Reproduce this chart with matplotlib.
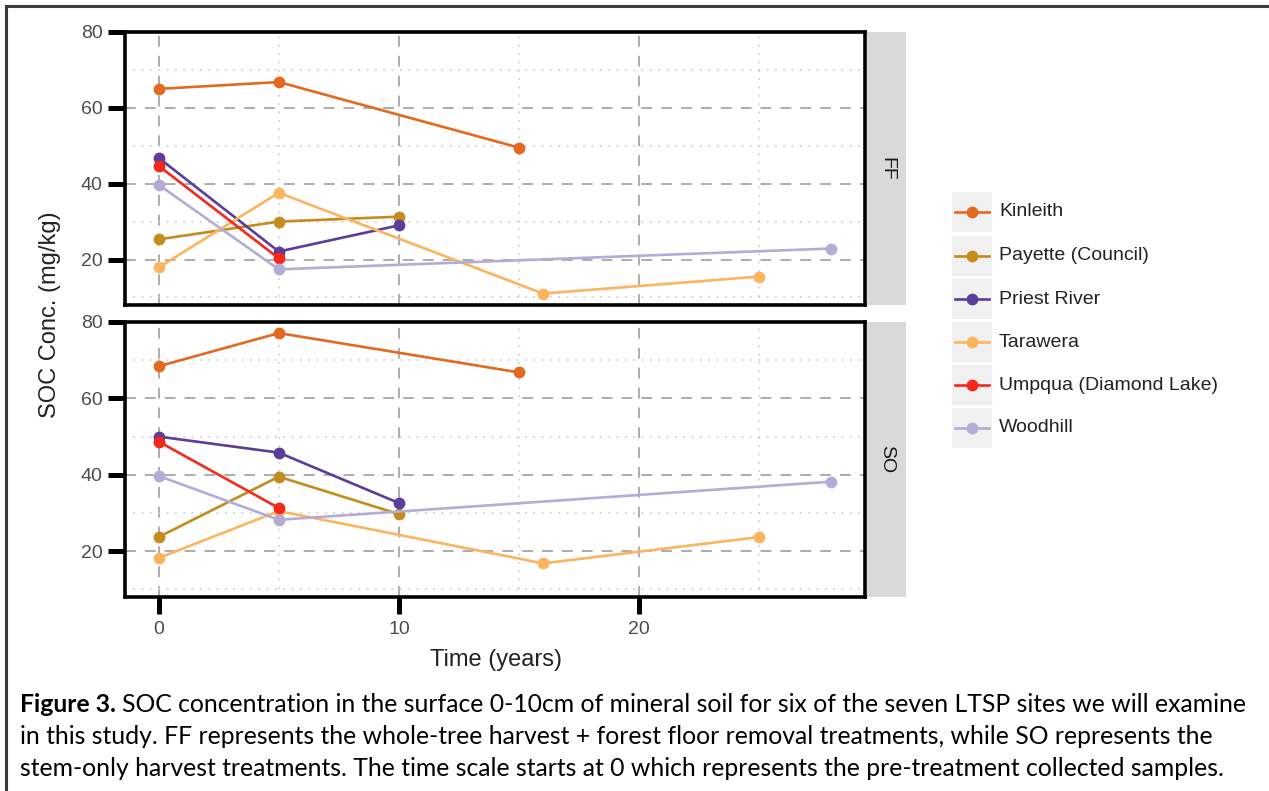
import matplotlib.pyplot as plt
from matplotlib.patches import Rectangle
from matplotlib.lines import Line2D
from matplotlib.ticker import MultipleLocator

plt.rcParams["font.family"] = ["Liberation Sans", "DejaVu Sans"]

# --- data ---
sites = ["Kinleith", "Payette (Council)", "Priest River", "Tarawera",
         "Umpqua (Diamond Lake)", "Woodhill"]
colors = ["#e2691f", "#c38c1c", "#5b3d9b", "#fdb45f", "#f5281c", "#b3acd6"]

years = {
    "Kinleith": [0, 5, 15],
    "Payette (Council)": [0, 5, 10],
    "Priest River": [0, 5, 10],
    "Tarawera": [0, 5, 16, 25],
    "Umpqua (Diamond Lake)": [0, 5],
    "Woodhill": [0, 5, 28],
}
soc_ff = {
    "Kinleith": [65.0, 66.8, 49.5],
    "Payette (Council)": [25.3, 30.0, 31.3],
    "Priest River": [46.8, 22.1, 29.0],
    "Tarawera": [17.9, 37.6, 11.0, 15.5],
    "Umpqua (Diamond Lake)": [44.7, 20.3],
    "Woodhill": [39.7, 17.4, 22.9],
}
soc_so = {
    "Kinleith": [68.4, 77.1, 66.8],
    "Payette (Council)": [23.7, 39.5, 29.7],
    "Priest River": [50.0, 45.8, 32.6],
    "Tarawera": [18.2, 30.5, 16.8, 23.7],
    "Umpqua (Diamond Lake)": [48.7, 31.3],
    "Woodhill": [39.7, 28.2, 38.2],
}
panels = [("FF", soc_ff), ("SO", soc_so)]

W, H = 1269, 791
fig = plt.figure(figsize=(W / 100, H / 100), dpi=100)

def fx(px): return px / W
def fy(py): return 1 - py / H

# outer frame of the figure box
fig.add_artist(Line2D([fx(6), 1], [fy(6), fy(6)], color="#3a3a3a", lw=2.2))
fig.add_artist(Line2D([fx(6), fx(6)], [fy(6), 0], color="#3a3a3a", lw=2.2))

tick_col = "#4d4d4d"
boxes = [(32, 305), (322, 597)]
for (name, data), (ytop, ybot) in zip(panels, boxes):
    ax = fig.add_axes([fx(125), fy(ybot), fx(865) - fx(125), (ybot - ytop) / H])
    for s, c in zip(sites, colors):
        ax.plot(years[s], data[s], color=c, lw=1.9, marker="o", ms=8.5,
                markeredgewidth=0, zorder=3)
    ax.set_xlim(-1.4, 29.4)
    ax.set_ylim(8.0, 80)
    ax.xaxis.set_major_locator(MultipleLocator(10))
    ax.xaxis.set_minor_locator(MultipleLocator(5))
    ax.yaxis.set_major_locator(MultipleLocator(20))
    ax.yaxis.set_minor_locator(MultipleLocator(10))
    ax.set_yticks([20, 40, 60, 80])
    ax.grid(which="major", color="#a6a6a6", ls=(0, (6, 5)), lw=1.3)
    ax.grid(which="minor", color="#cccccc", ls=(0, (1, 4)), lw=1.2)
    ax.set_axisbelow(True)
    for sp in ax.spines.values():
        sp.set_linewidth(2.6)
        sp.set_color("black")
    ax.tick_params(axis="y", which="major", direction="out", left=True,
                   length=12, width=3.6, color="black",
                   labelsize=14, labelcolor=tick_col, pad=4)
    ax.tick_params(axis="x", which="major", direction="out",
                   length=12, width=3.6, color="black",
                   labelsize=14, labelcolor=tick_col, pad=5,
                   bottom=(name == "SO"), labelbottom=(name == "SO"))
    ax.tick_params(which="minor", length=0)
    # facet strip
    sax = fig.add_axes([fx(867), fy(ybot), fx(906) - fx(867), (ybot - ytop) / H])
    sax.set_facecolor("#d9d9d9")
    sax.set_xticks([]); sax.set_yticks([])
    for sp in sax.spines.values():
        sp.set_visible(False)
    sax.text(0.5, 0.5, name, rotation=-90, ha="center", va="center",
             fontsize=14, color="#1a1a1a", transform=sax.transAxes)

fig.text(fx(50), fy(315), "SOC Conc. (mg/kg)", rotation=90, ha="center",
         va="center", fontsize=17, color="#222222")
fig.text(fx(496), fy(660), "Time (years)", ha="center", va="center",
         fontsize=17, color="#222222")

# legend with grey key backgrounds
row_y = [212, 256, 299, 342, 385, 428]
for s, c, yy in zip(sites, colors, row_y):
    fig.add_artist(Rectangle((fx(952), fy(yy + 20)), fx(992) - fx(952), 40 / H,
                             facecolor="#f0f0f0", edgecolor="none"))
    fig.add_artist(Line2D([fx(955), fx(989)], [fy(yy), fy(yy)], color=c, lw=1.9))
    fig.add_artist(Line2D([fx(972)], [fy(yy)], color=c, marker="o", ms=8.5,
                          markeredgewidth=0))
    fig.text(fx(999), fy(yy), s, ha="left", va="center", fontsize=14,
             color="#222222")

# caption, sized so every line stays inside the frame
cap_font = ["Lato", "DejaVu Sans"]
cap_lines = [
    "SOC concentration in the surface 0-10cm of mineral soil for six of the seven LTSP sites we will examine",
    "in this study. FF represents the whole-tree harvest + forest floor removal treatments, while SO represents the",
    "stem-only harvest treatments. The time scale starts at 0 which represents the pre-treatment collected samples.",
]
cap_ends = [1243, 1255, 1260]
renderer = fig.canvas.get_renderer()

def width_at10(txt, weight="normal"):
    t = fig.text(0, 0, txt, fontsize=10, family=cap_font, fontweight=weight)
    w = t.get_window_extent(renderer).width
    t.remove()
    return w

bold10 = width_at10("Figure 3.", "bold")
widths = [bold10 + 5 * 10 / 15 + width_at10(cap_lines[0]),
          width_at10(cap_lines[1]), width_at10(cap_lines[2])]
cap_size = min(10 * (e - 20) / w for e, w in zip(cap_ends, widths))

bold = fig.text(fx(20), fy(704), "Figure 3.", fontsize=cap_size, fontweight="bold",
                family=cap_font, ha="left", va="center", color="black")
bw = bold.get_window_extent(renderer).width
fig.text(fx(20) + (bw + cap_size * 0.33) / W, fy(704), cap_lines[0],
         fontsize=cap_size, family=cap_font, ha="left", va="center", color="black")
fig.text(fx(20), fy(737), cap_lines[1], fontsize=cap_size, family=cap_font,
         ha="left", va="center", color="black")
fig.text(fx(20), fy(769), cap_lines[2], fontsize=cap_size, family=cap_font,
         ha="left", va="center", color="black")

fig.savefig("out.png", dpi=100)
